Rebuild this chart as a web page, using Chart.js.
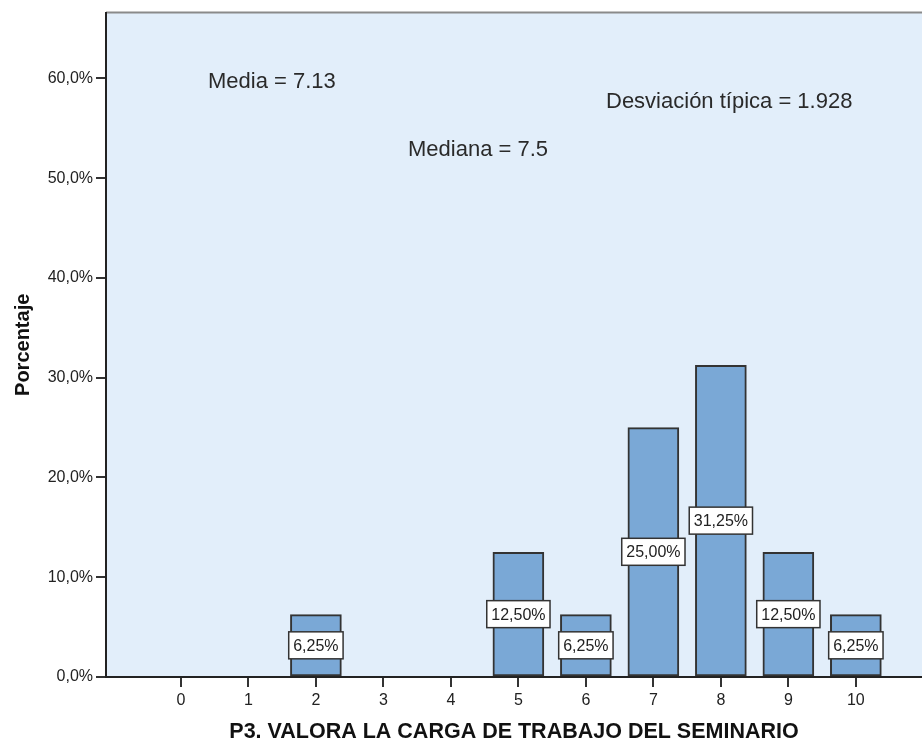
<!DOCTYPE html>
<html lang="es">
<head>
    <meta charset="UTF-8">
    <title>P3. Valora la carga de trabajo del seminario</title>
    <style>
        body {
            margin: 0;
            background: #ffffff;
        }
        canvas {
            display: block;
        }
    </style>
    <script src="https://cdn.jsdelivr.net/npm/chart.js"></script>
</head>
<body>

<canvas id="histChart" width="922" height="745"></canvas>

<script>
    // Data
    const categories = [0, 1, 2, 3, 4, 5, 6, 7, 8, 9, 10];
    const percentages = [0, 0, 6.25, 0, 0, 12.5, 6.25, 25, 31.25, 12.5, 6.25];
    const yTicks = [0, 10, 20, 30, 40, 50, 60];
    const statTexts = ['Media = 7.13', 'Mediana = 7.5', 'Desviación típica = 1.928'];
    const statPos = [[102, 75], [302, 143], [500, 95]]; // offsets from chart area corner

    const fmtPct = (v, d) => v.toFixed(d).replace('.', ',') + '%';

    // Light blue panel + top border
    const panelPlugin = {
        id: 'panel',
        beforeDraw(chart) {
            const { ctx, chartArea: a } = chart;
            ctx.save();
            ctx.fillStyle = '#e2eefa';
            ctx.fillRect(a.left, a.top, a.right - a.left, a.bottom - a.top);
            ctx.strokeStyle = '#8a8a8a';
            ctx.lineWidth = 2;
            ctx.beginPath();
            ctx.moveTo(a.left, a.top);
            ctx.lineTo(a.right, a.top);
            ctx.stroke();
            ctx.restore();
        }
    };

    // Boxed value labels at mid height of each bar
    const barLabels = {
        id: 'barLabels',
        afterDatasetsDraw(chart) {
            const { ctx } = chart;
            const meta = chart.getDatasetMeta(0);
            ctx.save();
            ctx.font = '16px "Liberation Sans", Arial, sans-serif';
            ctx.textAlign = 'center';
            ctx.textBaseline = 'middle';
            meta.data.forEach((bar, i) => {
                const v = percentages[i];
                if (!v) return;
                const txt = fmtPct(v, 2);
                const w = ctx.measureText(txt).width + 9;
                const h = 27;
                const cx = bar.x;
                const cy = (bar.y + bar.base) / 2;
                ctx.fillStyle = '#ffffff';
                ctx.fillRect(cx - w / 2, cy - h / 2, w, h);
                ctx.strokeStyle = '#333333';
                ctx.lineWidth = 1.5;
                ctx.strokeRect(cx - w / 2, cy - h / 2, w, h);
                ctx.fillStyle = '#222222';
                ctx.fillText(txt, cx, cy + 1);
            });
            ctx.restore();
        }
    };

    // Summary statistics text
    const statsText = {
        id: 'statsText',
        afterDraw(chart) {
            const { ctx, chartArea: a } = chart;
            ctx.save();
            ctx.font = '22px "Liberation Sans", Arial, sans-serif';
            ctx.fillStyle = '#2a2a2a';
            ctx.textAlign = 'left';
            ctx.textBaseline = 'alphabetic';
            statTexts.forEach((t, i) => {
                ctx.fillText(t, a.left + statPos[i][0], a.top + statPos[i][1]);
            });
            ctx.restore();
        }
    };

    const ctx = document.getElementById('histChart').getContext('2d');
    const histChart = new Chart(ctx, {
        type: 'bar',
        data: {
            datasets: [{
                label: 'Porcentaje',
                data: categories.map((c, i) => ({ x: c, y: percentages[i] })),
                backgroundColor: '#7aa8d6',
                borderColor: '#333333',
                borderWidth: 2,
                borderSkipped: false,
                barThickness: 51
            }]
        },
        options: {
            responsive: false,
            animation: false,
            layout: { padding: { top: 11, right: 0, left: 0, bottom: 0 } },
            plugins: {
                legend: { display: false },
                tooltip: { enabled: false }
            },
            scales: {
                x: {
                    type: 'linear',
                    offset: false,
                    min: -1.11,
                    max: 10.98,
                    afterBuildTicks(scale) {
                        scale.ticks = categories.map(v => ({ value: v }));
                    },
                    afterFit(scale) { scale.height = 68; },
                    ticks: {
                        color: '#222222',
                        padding: 4,
                        font: { family: '"Liberation Sans", Arial, sans-serif', size: 16 },
                        callback: v => String(v)
                    },
                    grid: {
                        offset: false,
                        drawOnChartArea: false,
                        drawTicks: true,
                        tickLength: 10,
                        color: '#333333',
                        lineWidth: 2
                    },
                    border: { display: true, color: '#222222', width: 2 },
                    title: {
                        display: true,
                        text: 'P3. VALORA LA CARGA DE TRABAJO DEL SEMINARIO',
                        color: '#111111',
                        font: { family: '"Liberation Sans", Arial, sans-serif', size: 21.5, weight: 'bold' },
                        padding: { top: 0, bottom: 0 }
                    }
                },
                y: {
                    min: 0,
                    max: 66.6,
                    afterBuildTicks(scale) {
                        scale.ticks = yTicks.map(v => ({ value: v }));
                    },
                    afterFit(scale) { scale.width = 106; },
                    ticks: {
                        color: '#222222',
                        padding: 3,
                        font: { family: '"Liberation Sans", Arial, sans-serif', size: 16 },
                        callback: v => fmtPct(v, 1)
                    },
                    grid: {
                        drawOnChartArea: false,
                        drawTicks: true,
                        tickLength: 10,
                        color: '#333333',
                        lineWidth: 2
                    },
                    border: { display: true, color: '#222222', width: 2 },
                    title: {
                        display: true,
                        text: 'Porcentaje',
                        color: '#111111',
                        font: { family: '"Liberation Sans", Arial, sans-serif', size: 20, weight: 'bold' },
                        padding: { top: 11, bottom: 0 }
                    }
                }
            }
        },
        plugins: [panelPlugin, barLabels, statsText]
    });
</script>

</body>
</html>
